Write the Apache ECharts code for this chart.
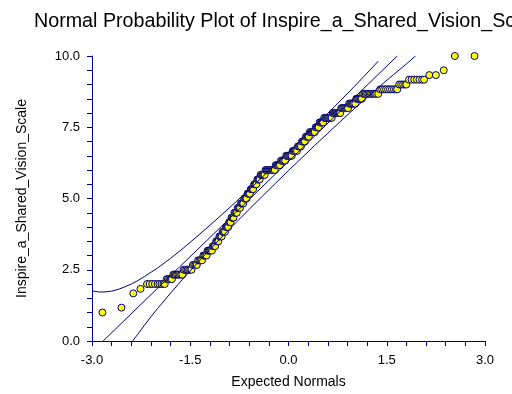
<!DOCTYPE html>
<html>
<head>
<meta charset="utf-8">
<script src="https://cdn.jsdelivr.net/npm/echarts@6/dist/echarts.min.js"></script>
<style>
  html, body { margin: 0; padding: 0; background: #fff; }
  #chart { width: 512px; height: 394px; }
</style>
</head>
<body>
<div id="chart"></div>
<script>
// Distinct scale scores (sorted) and the expected normal scores of the cases at each score
const scoreLevels = [
  1.0, 1.17, 1.67, 1.83, 2.0, 2.17, 2.33, 2.5, 2.67, 2.83,
  3.0, 3.17, 3.33, 3.5, 3.67, 3.83, 4.0, 4.17, 4.33, 4.5,
  4.67, 4.83, 5.0, 5.17, 5.33, 5.5, 5.67, 5.83, 6.0, 6.17,
  6.33, 6.5, 6.67, 6.83, 7.0, 7.17, 7.33, 7.5, 7.67, 7.83,
  8.0, 8.17, 8.33, 8.5, 8.67, 8.83, 9.0, 9.17, 9.33, 9.5, 10.0
];
const normalScoresByLevel = [
  [-2.84],
  [-2.55],
  [-2.37],
  [-2.26],
  [-2.16, -2.12, -2.08, -2.04, -2.00, -1.97, -1.94, -1.91, -1.89],
  [-1.86, -1.84, -1.82, -1.80, -1.78],
  [-1.76, -1.74, -1.72, -1.70, -1.68, -1.66, -1.64, -1.62],
  [-1.60, -1.58, -1.56, -1.54, -1.52, -1.50, -1.48],
  [-1.46, -1.44, -1.42, -1.40],
  [-1.38, -1.36, -1.34, -1.32],
  [-1.30, -1.285, -1.27, -1.25],
  [-1.235, -1.22, -1.205, -1.19, -1.17],
  [-1.155, -1.14, -1.13, -1.12],
  [-1.105, -1.09, -1.08, -1.07],
  [-1.055, -1.045, -1.03, -1.02],
  [-1.005, -0.995, -0.985, -0.97],
  [-0.955, -0.945, -0.93, -0.92],
  [-0.905, -0.895, -0.885],
  [-0.87, -0.86, -0.85, -0.84],
  [-0.825, -0.815, -0.80, -0.79],
  [-0.775, -0.765, -0.75, -0.74],
  [-0.725, -0.715, -0.70, -0.69],
  [-0.675, -0.665, -0.65, -0.64],
  [-0.625, -0.615, -0.60, -0.59],
  [-0.575, -0.565, -0.55, -0.54],
  [-0.525, -0.515, -0.50, -0.49],
  [-0.475, -0.465, -0.455, -0.44],
  [-0.425, -0.41, -0.395, -0.38, -0.365],
  [-0.35, -0.335, -0.32, -0.305, -0.29, -0.275, -0.26, -0.245, -0.23, -0.21],
  [-0.195, -0.18, -0.165, -0.15, -0.13],
  [-0.115, -0.10, -0.085, -0.07, -0.05],
  [-0.035, -0.02, -0.005, 0.01, 0.025, 0.04, 0.05],
  [0.065, 0.08, 0.095, 0.11, 0.13],
  [0.145, 0.16, 0.175, 0.19],
  [0.205, 0.22, 0.235, 0.25],
  [0.265, 0.28, 0.295, 0.31],
  [0.325, 0.34, 0.355, 0.37, 0.385, 0.40],
  [0.415, 0.43, 0.445, 0.46],
  [0.475, 0.49, 0.505, 0.52, 0.53],
  [0.545, 0.56, 0.575, 0.59, 0.605, 0.62, 0.635, 0.65, 0.66],
  [0.675, 0.69, 0.705, 0.72, 0.735, 0.75, 0.765, 0.78, 0.79],
  [0.805, 0.82, 0.835, 0.85, 0.865, 0.88, 0.895, 0.91],
  [0.925, 0.94, 0.955, 0.97, 0.985, 1.00, 1.02],
  [1.035, 1.05, 1.065, 1.08, 1.095, 1.11, 1.12],
  [1.14, 1.16, 1.18, 1.20, 1.22, 1.24, 1.26, 1.28, 1.30, 1.32, 1.34, 1.37],
  [1.40, 1.43, 1.46, 1.49, 1.52, 1.55, 1.58, 1.61, 1.64, 1.66],
  [1.69, 1.72, 1.75, 1.78, 1.80],
  [1.84, 1.88, 1.92, 1.96, 2.00, 2.04, 2.07],
  [2.15, 2.25],
  [2.37],
  [2.54, 2.84]
];

// Reference line (expected normal, score)
const refLineX = [-2.83, 1.66];
const refLineY = [0.0, 10.0];

// Upper and lower confidence band curves
const upperBandX = [-3.0, -2.9, -2.8, -2.7, -2.6, -2.5, -2.4, -2.3, -2.2, -2.1, -2.0, -1.8, -1.6, -1.4,
  -1.2, -1.0, -0.8, -0.6, -0.4, -0.2, 0.0, 0.2, 0.4, 0.6, 0.8, 1.0, 1.2, 1.37];
const upperBandY = [1.76, 1.72, 1.72, 1.75, 1.81, 1.90, 2.00, 2.12, 2.26, 2.41, 2.56, 2.90, 3.27, 3.66,
  4.06, 4.47, 4.89, 5.31, 5.75, 6.19, 6.63, 7.08, 7.53, 7.99, 8.45, 8.92, 9.40, 9.82];
const lowerBandX = [-2.38, -2.3, -2.2, -2.1, -2.0, -1.8, -1.6, -1.4, -1.2, -1.0, -0.8, -0.6, -0.4,
  -0.2, 0.0, 0.2, 0.4, 0.6, 0.8, 1.0, 1.2, 1.4, 1.6, 1.8, 1.94];
const lowerBandY = [0.0, 0.24, 0.55, 0.85, 1.14, 1.68, 2.21, 2.71, 3.21, 3.69, 4.16, 4.62, 5.08,
  5.53, 5.98, 6.42, 6.86, 7.29, 7.72, 8.14, 8.55, 8.95, 9.34, 9.72, 10.0];

// Axis ticks
const xTicks = [-3.0, -1.5, 0.0, 1.5, 3.0];
const yTicks = [0.0, 2.5, 5.0, 7.5, 10.0];

const navy = '#000080';
const font = 'Liberation Sans, Arial, sans-serif';
const zip = (xs, ys) => xs.map((x, i) => [x, ys[i]]);

const points = [];
scoreLevels.forEach((score, i) => {
  normalScoresByLevel[i].forEach(z => points.push([z, score]));
});

const chart = echarts.init(document.getElementById('chart'), null, { renderer: 'canvas' });

const axisCommon = {
  axisLine: { show: true, onZero: false, lineStyle: { color: navy, width: 1 } },
  axisTick: { show: true, inside: false, length: 5, lineStyle: { color: navy } },
  minorTick: { show: true, splitNumber: 5, length: 5, lineStyle: { color: navy } },
  splitLine: { show: false },
  nameTextStyle: { color: '#000', fontFamily: font, fontSize: 14 }
};

const curve = (xs, ys) => ({
  type: 'line', data: zip(xs, ys), symbol: 'none', clip: true, silent: true,
  lineStyle: { color: navy, width: 1 }
});

chart.setOption({
  animation: false,
  backgroundColor: '#fff',
  title: {
    text: 'Normal Probability Plot of Inspire_a_Shared_Vision_Scale',
    left: 29, top: 7,
    textStyle: { color: '#000', fontFamily: font, fontSize: 19.7, fontWeight: 'normal' }
  },
  grid: { left: 92, right: 27, top: 56, bottom: 51, containLabel: false },
  xAxis: Object.assign({}, axisCommon, {
    type: 'value',
    min: xTicks[0], max: xTicks[xTicks.length - 1], interval: 1.5,
    axisLabel: { color: '#000', fontFamily: font, fontSize: 13, margin: 13, formatter: v => v.toFixed(1) },
    name: 'Expected Normals', nameLocation: 'middle', nameGap: 34
  }),
  yAxis: Object.assign({}, axisCommon, {
    type: 'value',
    min: yTicks[0], max: yTicks[yTicks.length - 1], interval: 2.5,
    axisLabel: { color: '#000', fontFamily: font, fontSize: 13, margin: 12, formatter: v => v.toFixed(1) },
    name: 'Inspire_a_Shared_Vision_Scale', nameLocation: 'middle', nameGap: 63
  }),
  series: [
    curve(refLineX, refLineY),
    curve(upperBandX, upperBandY),
    curve(lowerBandX, lowerBandY),
    {
      type: 'scatter', data: points, symbol: 'circle', symbolSize: 7,
      itemStyle: { color: '#ffff00', borderColor: navy, borderWidth: 1, opacity: 1 }, clip: false
    }
  ]
});
</script>
</body>
</html>
